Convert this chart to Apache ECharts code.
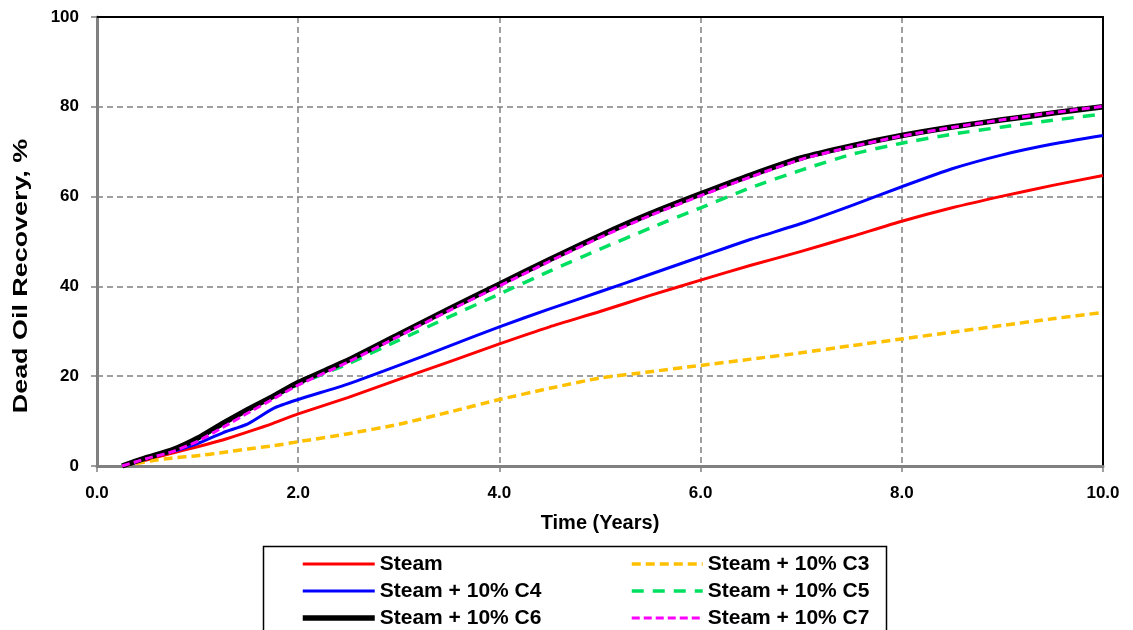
<!DOCTYPE html>
<html>
<head>
<meta charset="utf-8">
<title>Dead Oil Recovery</title>
<script src="https://cdn.jsdelivr.net/npm/echarts@6/dist/echarts.min.js"></script>
<style>
  html, body { margin: 0; padding: 0; background: #fff; }
  #chart { width: 1133px; height: 630px; }
</style>
</head>
<body>
<div id="chart"></div>
<script>
// Time axis (years) shared by all cases
const years = [0.25, 0.5, 0.75, 1.0, 1.25, 1.5, 1.75, 2.0, 2.5, 3.0, 3.5, 4.0, 4.5, 5.0,
               5.5, 6.0, 6.5, 7.0, 7.5, 8.0, 8.5, 9.0, 9.5, 10.0];

// Dead oil recovery, % for each injection case
const steam   = [0, 1.4, 2.9, 4.3, 5.8, 7.6, 9.5, 11.6, 15.3, 19.3, 23.2, 27.2, 31.0, 34.4,
                 38.0, 41.4, 44.7, 47.8, 51.1, 54.5, 57.5, 60.1, 62.5, 64.7];
const steamC3 = [0, 1.0, 1.8, 2.3, 3.0, 3.8, 4.5, 5.4, 7.2, 9.3, 12.0, 14.8, 17.3, 19.6,
                 21.0, 22.4, 23.8, 25.2, 26.8, 28.3, 29.8, 31.3, 32.8, 34.2];
const steamC4 = [0, 1.7, 3.2, 5.0, 7.4, 9.4, 12.8, 14.8, 18.3, 22.4, 26.7, 31.0, 35.0, 38.8,
                 42.7, 46.6, 50.5, 54.0, 58.0, 62.2, 66.2, 69.3, 71.7, 73.6];
const steamC5 = [0, 1.8, 3.5, 6.0, 9.4, 12.5, 15.3, 18.2, 22.8, 28.0, 33.2, 38.3, 43.4, 48.3,
                 53.0, 57.5, 62.0, 65.9, 69.4, 71.9, 73.9, 75.5, 77.0, 78.4];
const steamC6 = [0, 1.9, 3.6, 6.2, 9.5, 12.6, 15.5, 18.6, 23.6, 29.3, 35.0, 40.5, 46.0, 51.3,
                 56.2, 60.6, 64.8, 68.6, 71.3, 73.6, 75.5, 77.1, 78.6, 80.0];
const steamC7 = [0, 1.7, 3.2, 5.5, 8.6, 11.8, 14.9, 18.0, 23.2, 28.9, 34.6, 40.1, 45.6, 50.9,
                 55.8, 60.2, 64.4, 68.3, 71.1, 73.5, 75.4, 77.1, 78.7, 80.1];

const seriesNames = ['Steam', 'Steam + 10% C3', 'Steam + 10% C4',
                     'Steam + 10% C5', 'Steam + 10% C6', 'Steam + 10% C7'];

const yTitle = 'Dead Oil Recovery, %';
const xTitle = 'Time (Years)';

const FONT = "'Liberation Sans', Arial, Helvetica, sans-serif";

function pairs(vals) {
  return years.map((t, i) => [t, vals[i]]);
}

function lineSeries(name, vals, color, width, type, z) {
  return {
    name: name,
    type: 'line',
    data: pairs(vals),
    showSymbol: false,
    symbol: 'none',
    smooth: 0.2,
    z: z,
    lineStyle: { color: color, width: width, type: type, cap: 'butt', join: 'round' },
    itemStyle: { color: color }
  };
}

const chart = echarts.init(document.getElementById('chart'), null, { renderer: 'canvas' });

const legendText = { color: '#000', fontFamily: FONT, fontWeight: 'bold', fontSize: 21, lineHeight: 22 };

// hidden axis used only to draw the black frame on the top and right sides
function frameAxis(pos) {
  return {
    type: 'value', position: pos, min: 0, max: pos === 'top' ? 10 : 100,
    axisLine: { show: true, onZero: false, lineStyle: { color: '#000', width: 2 } },
    axisTick: { show: false }, axisLabel: { show: false }, splitLine: { show: false }
  };
}

chart.setOption({
  animation: false,
  backgroundColor: '#fff',
  grid: { left: 97, right: 30, top: 17, bottom: 164, show: false },
  xAxis: [
    {
      type: 'value',
      min: 0, max: 10, interval: 2,
      name: xTitle,
      nameLocation: 'middle',
      nameGap: 47,
      nameTextStyle: { color: '#000', fontFamily: FONT, fontWeight: 'bold', fontSize: 20 },
      axisLine: { onZero: false, lineStyle: { color: '#808080', width: 3 } },
      axisTick: { show: true, inside: false, length: 6, lineStyle: { color: '#808080', width: 1.5 } },
      axisLabel: {
        margin: 19, color: '#000', fontFamily: FONT, fontWeight: 'bold', fontSize: 17,
        formatter: v => v.toFixed(1)
      },
      splitLine: { show: true, lineStyle: { color: '#808080', width: 1.5, type: [6, 4] } }
    },
    frameAxis('top')
  ],
  yAxis: [
    {
      type: 'value',
      min: 0, max: 100, interval: 20,
      axisLine: { show: true, onZero: false, lineStyle: { color: '#808080', width: 3 } },
      axisTick: { show: true, inside: false, length: 6, lineStyle: { color: '#808080', width: 1.5 } },
      axisLabel: { margin: 18, color: '#000', fontFamily: FONT, fontWeight: 'bold', fontSize: 17 },
      splitLine: { show: true, lineStyle: { color: '#808080', width: 1.5, type: [6, 4] } }
    },
    frameAxis('right')
  ],
  legend: [
    {
      orient: 'vertical', left: 300, top: 553,
      itemWidth: 72, itemHeight: 14, itemGap: 5, padding: 0,
      itemStyle: { opacity: 0 },
      lineStyle: { width: 'inherit' },
      data: ['Steam', 'Steam + 10% C4', 'Steam + 10% C6'],
      textStyle: legendText
    },
    {
      orient: 'vertical', left: 630, top: 553,
      itemWidth: 71, itemHeight: 14, itemGap: 5, padding: 0,
      itemStyle: { opacity: 0 },
      lineStyle: { width: 'inherit' },
      data: ['Steam + 10% C3', 'Steam + 10% C5', 'Steam + 10% C7'],
      textStyle: legendText
    }
  ],
  graphic: [
    {
      // vertical axis title, stretched along its run
      type: 'text',
      x: 21, y: 276,
      rotation: Math.PI / 2,
      scaleX: 1.28,
      style: {
        text: yTitle,
        fill: '#000',
        font: "bold 21px 'Liberation Sans', Arial, sans-serif",
        align: 'center',
        verticalAlign: 'middle'
      }
    },
    {
      // legend frame
      type: 'rect',
      left: 261, top: 544,
      shape: { width: 623, height: 100 },
      style: { fill: 'none', stroke: '#000', lineWidth: 1.5 },
      z: 0
    }
  ],
  series: [
    lineSeries(seriesNames[0], steam,   '#ff0000', 3, 'solid', 2),
    lineSeries(seriesNames[1], steamC3, '#ffc000', 3.5, [9, 5], 3),
    lineSeries(seriesNames[2], steamC4, '#0000ff', 3, 'solid', 4),
    lineSeries(seriesNames[3], steamC5, '#00e060', 3.5, [12, 9], 5),
    lineSeries(seriesNames[4], steamC6, '#000000', 5.5, 'solid', 6),
    lineSeries(seriesNames[5], steamC7, '#ff00ff', 3, [8, 4], 7)
  ]
});
</script>
</body>
</html>
